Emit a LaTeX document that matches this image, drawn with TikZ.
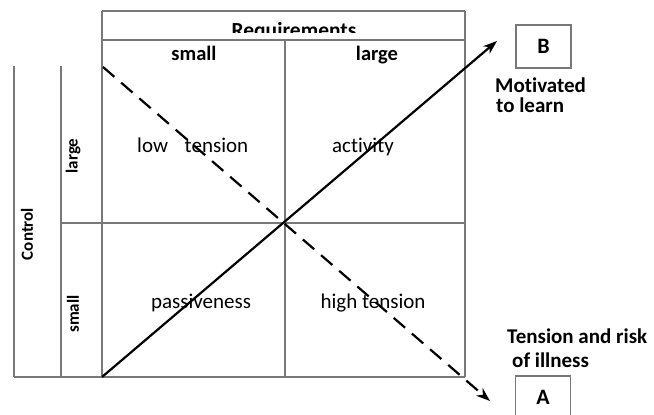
\documentclass[tikz,border=0pt]{standalone}
\usepackage{fontspec}
\setmainfont{Carlito}[Ligatures=NoCommon]
\usetikzlibrary{arrows.meta}
\definecolor{gridgray}{RGB}{120,120,120}
\begin{document}
\begin{tikzpicture}[x=1pt,y=-1pt,
  gridline/.style={draw=gridgray,line width=1.9pt},
  cell/.style={font=\fontsize{21}{25}\selectfont,inner sep=0pt,anchor=base},
  head/.style={font=\bfseries\fontsize{20.5}{24}\selectfont,inner sep=0pt,anchor=base},
  side/.style={font=\bfseries\fontsize{17}{20}\selectfont,inner sep=0pt,rotate=90},
  lbl/.style={font=\bfseries\fontsize{21}{25}\selectfont,inner sep=0pt,anchor=base west},
  letterbox/.style={draw=gridgray,line width=1.9pt,minimum width=55pt,minimum height=43pt,inner sep=0pt,font=\bfseries\fontsize{22}{26}\selectfont},
  arrowline/.style={line width=2.2pt,-{Stealth[length=14pt,width=10pt]}},
]
\useasboundingbox (0,0) rectangle (654,415);
\clip (0,0) rectangle (654,415);
% grid
\draw[gridline] (102,11) -- (465,11);
\draw[gridline] (102,40) -- (465,40);
\draw[gridline] (102,11) -- (102,377);
\draw[gridline] (465,11) -- (465,377);
\draw[gridline] (285,40) -- (285,377);
\draw[gridline] (61,223) -- (465,223);
\draw[gridline] (14,377) -- (465,377);
\draw[gridline] (14,66) -- (14,377);
\draw[gridline] (61,66) -- (61,377);
% clipped title
\begin{scope}
\clip (102,11) rectangle (465,32.5);
\node[head,font=\bfseries\fontsize{21.5}{24}\selectfont] (req) at (294,37) {Requirements};
\end{scope}
% texts
\node[head] (csmall) at (194,60) {small};
\node[head] (clarge) at (377,60) {large};
\node[cell,anchor=base west] (lowt) at (137,152) {low\hspace{12pt} tension};
\node[cell] (act) at (363,152) {activity};
\node[cell] (pass) at (201,308) {passiveness};
\node[cell] (hight) at (373,308) {high tension};
\node[side] (ctrl) at (27,234) {Control};
\node[side] (rlarge) at (73,156) {large};
\node[side] (rsmall) at (73,314) {small};
\node[letterbox] (B) at (543.5,46.5) {B};
\node[letterbox] (A) at (543,397.5) {A};
\node[lbl] (mot1) at (495,92) {Motivated};
\node[lbl] (mot2) at (496,112) {to learn};
\node[lbl] (ten1) at (507,343) {Tension and risk};
\node[lbl] (ten2) at (512,367) {of illness};
% arrows
\coordinate (origin) at (102,377);
\coordinate (tipB) at (497,41);
\coordinate (dstart) at (103,67);
\coordinate (tipA) at (490,401);
\draw[arrowline] (origin) -- (tipB);
\draw[arrowline,dash pattern=on 15pt off 9pt] (dstart) -- (tipA);
\end{tikzpicture}
\end{document}
